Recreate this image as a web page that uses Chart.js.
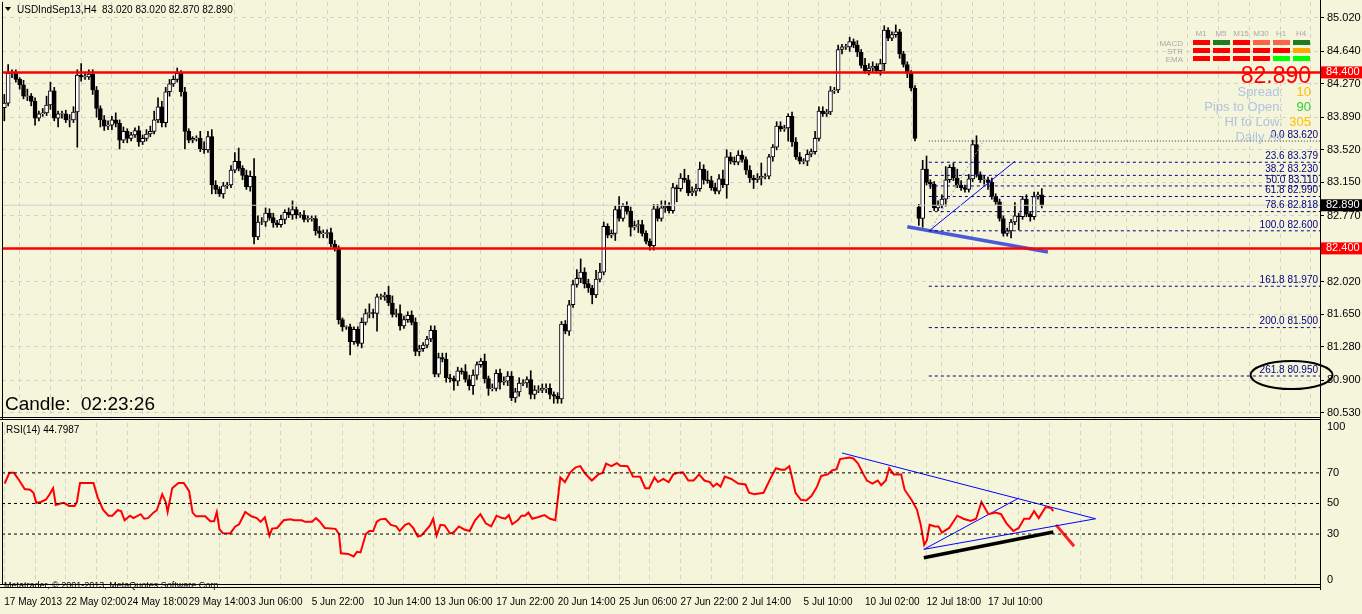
<!DOCTYPE html>
<html>
<head>
<meta charset="utf-8">
<script src="https://cdn.jsdelivr.net/npm/chart.js@4.4.0/dist/chart.umd.min.js"></script>
<style>
  html, body { margin: 0; padding: 0; background: #f5f5dc; overflow: hidden; }
  #wrap { position: relative; width: 1362px; height: 614px; }
  #main { position: absolute; left: 0; top: 0; }
  #rsi { position: absolute; left: 0; top: 422px; }
</style>
</head>
<body>
<div id="wrap">
  <canvas id="main" width="1362" height="422"></canvas>
  <canvas id="rsi" width="1362" height="192"></canvas>
</div>
<script>
// closing prices, H4 bars (index 0 = 17 May 2013 00:00)
const closes = [
  84.05,84.39,84.40,84.32,84.26,84.13,84.13,84.07,83.88,83.93,
  83.94,84.03,84.19,83.88,83.93,83.93,83.86,83.86,83.95,84.37,
  84.35,84.35,84.38,84.20,83.99,83.86,83.79,83.80,83.86,83.82,
  83.63,83.73,83.65,83.69,83.74,83.61,83.65,83.70,83.73,83.86,
  84.01,83.83,84.18,84.27,84.32,84.39,84.18,83.73,83.63,83.65,
  83.65,83.53,83.52,83.67,83.12,83.07,83.02,83.11,83.12,83.29,
  83.39,83.31,83.23,83.10,83.22,82.53,82.70,82.70,82.80,82.75,
  82.69,82.67,82.73,82.81,82.78,82.84,82.78,82.78,82.73,82.74,
  82.74,82.60,82.57,82.57,82.58,82.45,82.40,81.59,81.51,81.51,
  81.34,81.48,81.32,81.56,81.66,81.67,81.66,81.85,81.85,81.87,
  81.78,81.65,81.66,81.52,81.59,81.64,81.56,81.23,81.26,81.30,
  81.37,81.47,80.97,81.16,81.14,80.93,80.92,80.89,81.01,81.00,
  80.91,80.84,80.96,81.08,81.12,80.92,80.81,80.81,80.98,80.88,
  80.89,80.95,80.70,80.77,80.87,80.87,80.91,80.74,80.79,80.79,
  80.81,80.81,80.74,80.72,80.69,81.54,81.46,81.76,81.99,82.06,
  82.13,82.00,81.95,81.87,82.05,82.13,82.65,82.55,82.57,82.84,
  82.74,82.88,82.82,82.64,82.66,82.67,82.57,82.48,82.43,82.85,
  82.74,82.86,82.88,82.83,83.09,83.08,83.20,83.18,83.03,83.05,
  83.08,83.30,83.18,83.17,83.09,83.05,83.19,83.12,83.44,83.39,
  83.38,83.46,83.41,83.29,83.20,83.18,83.20,83.22,83.22,83.44,
  83.55,83.79,83.76,83.77,83.90,83.61,83.44,83.39,83.39,83.47,
  83.50,83.65,83.96,83.93,83.95,84.19,84.20,84.66,84.69,84.69,
  84.75,84.71,84.63,84.48,84.42,84.45,84.47,84.42,84.50,84.88,
  84.79,84.83,84.86,84.61,84.49,84.39,84.22,83.65,82.74,83.30,
  83.15,83.13,82.86,82.89,82.96,83.18,83.32,83.20,83.12,83.09,
  83.07,83.19,83.58,83.24,83.18,83.18,83.15,82.99,82.93,82.74,
  82.57,82.60,82.70,82.77,82.76,82.96,82.79,82.76,82.99,83.01,
  82.89
];
// opens follow the previous close except after price gaps
const firstOpen = 84.00;
const openGaps = [[238, 82.87]];
// wick lengths above / below the body, in hundredths
const wickHi = [
  10,10,3,3,2,5,8,3,4,3, 5,10,10,4,3,3,4,6,6,6, 13,4,5,5,4,3,5,5,4,8,
  4,5,3,3,3,5,4,5,6,10, 10,6,5,5,4,6,3,5,3,2, 3,8,8,6,8,5,3,4,3,5,
  10,15,3,6,6,20,7,5,6, 5,
  5,3,5,3,5,10,3,3,5,3, 3,3,5,4,3,5,4,3,2,1, 3,3,3,5,5,10,4,3,3,3,
  10,8,5,10,4,4,5,5,4,3, 3,5,5,5,5,7,4,3,4,3, 8,5,6,3,3,8,3,5,4,5,
  5,5,5,4,6,4,3,10,5,5, 5,5,5,3,4,3,4,5,
  5,10,15,5,5,3,10,10,5,3, 4,4,15,3,5,5,5,5,5,3, 3,5,5,8,6,4,5,3,5,10,
  5,5,5,8,5,10,5,5,5,10, 8,5,5,5,5,3,5,3,5,15, 3,3,3,5,5,3,3,5,5,5,
  3,5,3,8,5,5,
  3,5,3,5,3,3,5,3,5,3, 8,5,5,3,5,5,3,3,8,3, 3,3,3,3,
  3,10,15,3,3,5,5,15,3,5, 10,5,3,5,5,10,3,5,3,5, 3,3,3,3,3,15,3,3,5,3,
  5,3,7
];
const wickLo = [
  15,3,5,3,5,3,5,5,8,3, 3,3,5,3,10,5,3,8,3,40, 5,3,3,5,10,8,5,4,5,4,
  10,3,5,3,3,5,3,3,3,3, 3,5,5,5,3,3,5,20,3,3, 3,3,4,3,10,5,3,5,3,3,
  3,3,5,3,5,8,3,3,5, 3,
  5,3,3,5,3,5,4,3,3,3, 3,5,5,5,5,3,3,5,5,3, 15,3,3,5,3,5,5,20,3,4,
  3,3,3,5,3,3,3,5,5,3, 3,3,3,3,3,5,4,10,5,3, 3,5,10,5,3,5,8,3,3,8,
  3,5,3,5,5,3,5,5,5,3, 3,5,5,8,5,5,3,5,
  3,3,5,5,5,10,3,3,3,3, 3,8,3,3,3,10,3,8,3,3, 5,5,3,3,5,3,3,15,3,3,
  3,3,5,3,5,3,3,3,3,3, 15,3,3,3,3,5,5,10,3,8, 3,3,5,3,3,3,15,5,3,3,
  3,5,3,3,3,3,
  3,3,3,3,5,3,5,3,5,3, 3,5,5,3,5,8,3,3,3,5, 3,5,3,3,
  8,10,3,5,3,3,3,8,3,3, 3,3,3,3,3,3,3,5,8,3, 3,3,3,3,8,3,15,3,3,5,
  3,3,3
];
// RSI(14): bar position and value
const rsiX = [0.1,1.3,2.5,3.9,5.3,6.7,7.6,8.3,9.5,10.8,11.8,12.7,13.4,14.6,15.5,16.9,18.3,18.9,19.7,21.1,
  23.2,24.3,25.7,27.1,28.1,29.5,30.4,31.3,32.7,33.6,35.5,36.4,37.4,38.8,39.7,41.1,42,42.5,43.7,45.3,
  46.7,48.1,49,49.9,52.3,53.6,54.6,55.3,56,56.9,58.8,60.1,61.1,62.7,64.3,65.7,66.7,67.8,68.2,69,
  69.7,71,72.7,74.4,75.5,77.4,78.3,80.1,81.1,82,83.4,86.2,87.1,87.6,89.5,90.9,91.8,92.7,93.4,94.1,
  95,96,96.9,97.8,99.2,100.6,102,102.9,104.3,105.3,106.4,107.6,108.5,109.9,110.8,111.6,112.5,113.5,114.6,116,
  116.9,118.3,119.7,121.1,122.5,123.9,125.3,126.7,128.1,129.4,130.4,131.3,132.2,133.6,134.6,135.5,136.4,137.4,138.8,140.6,
  142,143.4,144.7,145.9,147.3,148.7,149.9,151,152.9,154.6,155.7,156.6,158,159.4,160.3,162.2,163.6,165.5,166.8,167.8,
  169.2,170.1,171.5,172.9,174.1,175.2,176.6,178,179.4,180.8,182.2,183.6,184.5,185.4,186.4,187.5,189.2,191,192.9,193.8,
  195.2,197.6,199.4,200.8,202.2,203.1,204.3,205,205.9,207.3,208.7,210.1,211.5,212.6,214.3,215.4,216.6,217.5,219.9,221,
  222.2,223.6,224.5,225.9,227.3,228.2,229.4,230.3,231.5,233.4,234.3,236.2,237.5,238.5,239.4,240.1,240.8,242.2,243.1,244,
  245.9,248,249.6,251.5,252.9,254.3,256.1,258,259.4,260.8,262.6,264,265.4,266.8,268,269.2,271,272.4,273];
const rsiY = [63,70,70,65,59.4,59,57,50.4,51,52.4,56,60,49,50,50.4,48.4,48.4,51,63.4,63.4,
  63.4,54,46,42,42,45.6,45,39,42,40.4,43,40,40.4,44,45.6,56,51,44.4,60,63.4,
  63.4,58,44,41.6,41.6,38.4,38.4,44.4,33,30.6,30.4,35,36.4,44.4,41.6,40.4,38,41,37,29,
  33.6,34,39,39.6,39,39,38,38,40.4,38.4,34,33.4,30,17.4,17,15.4,18.4,18,24,30,
  32,32,38,39.6,40,36,35,32,36,37,34,28.4,29,33,35.6,40,29,36,35.6,30.4,
  31,35,33,32,39,43,37,35,42,40.6,40,42.4,36.4,39,42,42,44,40,41,42.4,
  40,39,67,64,70.4,73.6,74.4,70,65,69,70,76,74.4,76.4,74.6,74.4,67.6,67.4,60,60,
  67,64,66,64,69,70,70.4,65,65,69,65,64,61,63,61,67.6,66,63,62.4,57,
  56,57,66.4,73,72,72,74.4,67,57,52.4,52,55,61,68,69,71.6,72.4,79,80,79.4,
  76,69,65,63,65,62,65,73,69,69,59,52,46,36,23,26,36,35,35,31,
  34,42,40,38.6,40,51,43,44,43,37,32,34,40,40,45,40.4,47.6,47,45];

// axis labels
const dateLabels = ['17 May 2013','22 May 02:00','24 May 18:00','29 May 14:00','3 Jun 06:00','5 Jun 22:00',
  '10 Jun 14:00','13 Jun 06:00','17 Jun 22:00','20 Jun 14:00','25 Jun 06:00','27 Jun 22:00','2 Jul 14:00',
  '5 Jul 10:00','10 Jul 02:00','12 Jul 18:00','17 Jul 10:00'];
const priceTicks = [85.020,84.640,84.270,83.890,83.520,83.150,82.770,82.400,82.020,81.650,81.280,80.900,80.530];
const rsiTicks = [100,70,50,30,0];
const rsiLevels = [70,50,30];

// levels and drawn objects
const resistance = 84.40, support = 82.40, lastPrice = 82.89;
const fibLevels = [['0.0',83.620],['23.6',83.379],['38.2',83.230],['50.0',83.110],['61.8',82.990],
  ['78.6',82.818],['100.0',82.600],['161.8',81.970],['200.0',81.500],['261.8',80.950]];
const fibStart = 240.6;
const panelCols = ['M1','M5','M15','M30','H1','H4'];
const panelRows = ['MACD','STR','EMA'];
const panelColors = [
  ['#ff0000','#1e7d1e','#ff0000','#ff6347','#ff6347','#1e7d1e'],
  ['#ff0000','#ff0000','#ff0000','#ff0000','#ff0000','#ffa500'],
  ['#ff0000','#ff0000','#ff0000','#ff0000','#00ff00','#00ff00']
];

const XMIN = -0.6, XMAX = 342.4;
const FONT = '"Liberation Sans", Arial, sans-serif';

const opens = closes.map((c, i) => i === 0 ? firstOpen : closes[i - 1]);
openGaps.forEach(g => { opens[g[0]] = g[1]; });

const wickData = closes.map((c, i) => ({
  x: i, y: [Math.min(opens[i], c) - wickLo[i] / 100, Math.max(opens[i], c) + wickHi[i] / 100]
}));
const bodyData = closes.map((c, i) => {
  let lo = Math.min(opens[i], c), hi = Math.max(opens[i], c);
  if (hi - lo < 0.006) { lo -= 0.003; hi += 0.003; }
  return { x: i, y: [lo, hi] };
});
const bodyFill = closes.map((c, i) => c >= opens[i] ? '#ffffff' : '#000000');

const seg = (x0, y0, x1, y1) => [{ x: x0, y: y0 }, { x: x1, y: y1 }];
const lineDs = (data, color, width, dash) => ({
  type: 'line', data, borderColor: color, borderWidth: width, borderDash: dash || [],
  pointRadius: 0, fill: false, order: 0, tension: 0
});

const noPad = s => { s.paddingTop = 0; s.paddingBottom = 0; s.paddingLeft = 0; s.paddingRight = 0; };
const fitRight = s => { s.width = 42; noPad(s); };

const mainDecor = {
  id: 'mainDecor',
  afterDraw(chart) {
    const { ctx, chartArea: a, scales } = chart;
    const x = scales.x, y = scales.y;
    ctx.save();
    // fib labels
    ctx.font = '10px ' + FONT;
    ctx.fillStyle = '#000080';
    ctx.textAlign = 'right';
    ctx.textBaseline = 'bottom';
    fibLevels.forEach(f => {
      ctx.fillText(f[0] + ' ' + f[1].toFixed(3), a.right - 2, y.getPixelForValue(f[1]) - 1);
    });
    // ellipse around 261.8
    ctx.strokeStyle = '#000';
    ctx.lineWidth = 2;
    ctx.beginPath();
    ctx.ellipse(x.getPixelForValue(335), y.getPixelForValue(80.96), 41, 14, 0, 0, Math.PI * 2);
    ctx.stroke();
    // borders
    ctx.lineWidth = 1;
    ctx.beginPath();
    ctx.moveTo(a.left + 0.5, a.top); ctx.lineTo(a.left + 0.5, a.bottom);
    ctx.moveTo(a.right + 0.5, 0); ctx.lineTo(a.right + 0.5, a.bottom + 3);
    ctx.moveTo(0, a.bottom - 2.5); ctx.lineTo(a.right, a.bottom - 2.5);
    ctx.moveTo(0, a.bottom - 0.5); ctx.lineTo(a.right, a.bottom - 0.5);
    ctx.stroke();
    // price boxes on axis
    const box = (v, bg, fg) => {
      const py = y.getPixelForValue(v);
      ctx.fillStyle = bg;
      ctx.fillRect(a.right + 1, py - 6, 41, 12);
      ctx.fillStyle = fg;
      ctx.textAlign = 'left';
      ctx.textBaseline = 'middle';
      ctx.font = '11px ' + FONT;
      ctx.fillText(v.toFixed(3), a.right + 6, py);
    };
    box(resistance, '#ff0000', '#ffffff');
    box(support, '#ff0000', '#ffffff');
    box(lastPrice, '#000000', '#ffffff');
    // title
    ctx.fillStyle = '#000';
    ctx.beginPath();
    ctx.moveTo(5, 7); ctx.lineTo(11, 7); ctx.lineTo(8, 11); ctx.closePath(); ctx.fill();
    ctx.font = '10px ' + FONT;
    ctx.textAlign = 'left';
    ctx.textBaseline = 'middle';
    ctx.fillText('USDIndSep13,H4  83.020 83.020 82.870 82.890', 17, 10);
    // candle timer
    ctx.font = '19px ' + FONT;
    ctx.textBaseline = 'alphabetic';
    ctx.fillText('Candle:  02:23:26', 5, 410);
    // signal panel
    ctx.font = '8px ' + FONT;
    ctx.fillStyle = '#a9a9a9';
    ctx.textAlign = 'center';
    panelCols.forEach((c, i) => ctx.fillText(c, 1201 + i * 20, 36));
    ctx.textAlign = 'right';
    panelRows.forEach((r, j) => {
      ctx.fillStyle = '#a9a9a9';
      ctx.fillText(r, 1183, 46 + j * 8);
      panelColors[j].forEach((col, i) => {
        ctx.fillStyle = col;
        ctx.fillRect(1193 + i * 20, 40 + j * 8, 17, 5);
      });
    });
    ctx.font = '23px ' + FONT;
    ctx.fillStyle = '#ff0000';
    ctx.fillText(lastPrice.toFixed(3), 1311, 83);
    ctx.font = '13px ' + FONT;
    const info = [['Spread:', '10', '#ffc000'], ['Pips to Open:', '90', '#32cd32'],
      ['HI to Low:', '305', '#ffc000'], ['Daily Av', '', '#32cd32']];
    info.forEach((r, k) => {
      ctx.fillStyle = '#b0c4de';
      ctx.textAlign = 'right';
      ctx.fillText(r[0], 1283, 96 + k * 15);
      ctx.fillStyle = r[2];
      ctx.fillText(r[1], 1311, 96 + k * 15);
    });
    ctx.restore();
  }
};

const rsiDecor = {
  id: 'rsiDecor',
  afterDraw(chart) {
    const { ctx, chartArea: a } = chart;
    ctx.save();
    ctx.fillStyle = '#000';
    ctx.font = '10px ' + FONT;
    ctx.textBaseline = 'top';
    ctx.fillText('RSI(14) 44.7987', 6, 3);
    ctx.strokeStyle = '#000';
    ctx.lineWidth = 1;
    ctx.beginPath();
    ctx.moveTo(a.left + 0.5, 0); ctx.lineTo(a.left + 0.5, a.bottom);
    ctx.moveTo(a.right + 0.5, 0); ctx.lineTo(a.right + 0.5, a.bottom + 5);
    ctx.moveTo(0, a.bottom - 0.5); ctx.lineTo(a.right, a.bottom - 0.5);
    ctx.moveTo(0, a.bottom + 2.5); ctx.lineTo(a.right, a.bottom + 2.5);
    ctx.stroke();
    ctx.font = '9px ' + FONT;
    ctx.textBaseline = 'middle';
    ctx.fillText('Metatrader, \u00a9 2001-2013, MetaQuotes Software Corp.', 4, a.bottom + 1);
    ctx.restore();
  }
};

const xTicks = s => { const t = []; for (let v = 0; v <= XMAX; v += 8) t.push({ value: v }); s.ticks = t; };

new Chart(document.getElementById('main'), {
  type: 'bar',
  data: {
    datasets: [
      lineDs(seg(XMIN, lastPrice, XMAX, lastPrice), '#cfcfcf', 1),
      lineDs(seg(XMIN, resistance, XMAX, resistance), '#ff0000', 2.5),
      lineDs(seg(XMIN, support, XMAX, support), '#ff0000', 2.5),
      ...fibLevels.map(f => lineDs(seg(fibStart, f[1], XMAX, f[1]), f[0] === '0.0' ? '#333333' : '#000080', 1, f[0] === '0.0' ? [1, 2] : [3, 3])),
      lineDs(seg(235, 82.645, 271.6, 82.36), '#4a5bd4', 3.5),
      lineDs(seg(241, 82.61, 263, 83.39), '#0000ff', 1),
      lineDs(seg(241, 82.61, 254.5, 83.60), '#a0a0a0', 1, [2, 2]),
      { type: 'bar', data: wickData, backgroundColor: '#000', barThickness: 1, grouped: false, order: 2 },
      { type: 'bar', data: bodyData, backgroundColor: bodyFill, borderColor: '#000', borderWidth: 1,
        borderSkipped: false, barThickness: 4, grouped: false, order: 1 }
    ]
  },
  options: {
    responsive: false, animation: false, events: [],
    layout: { padding: { top: 2, left: 2, right: 0, bottom: 0 } },
    plugins: { legend: { display: false }, tooltip: { enabled: false } },
    scales: {
      x: {
        type: 'linear', min: XMIN, max: XMAX, offset: false,
        afterBuildTicks: xTicks,
        afterFit: s => { s.height = 2; noPad(s); },
        ticks: { display: false },
        grid: { color: '#d3d3c8', drawTicks: false }, border: { display: false, dash: [4, 4] }
      },
      y: {
        position: 'right', min: 80.45, max: 85.20,
        afterBuildTicks: s => { s.ticks = priceTicks.map(v => ({ value: v })); },
        afterFit: fitRight,
        ticks: { color: '#000', font: { size: 11, family: FONT }, padding: 3, autoSkip: false,
          callback: v => v.toFixed(3) },
        grid: { color: '#d3d3c8', drawTicks: true, tickLength: 4, tickColor: '#000' },
        border: { display: false, dash: [4, 4] }
      }
    }
  },
  plugins: [mainDecor]
});

new Chart(document.getElementById('rsi'), {
  type: 'line',
  data: {
    datasets: [
      ...rsiLevels.map(l => lineDs(seg(XMIN, l, XMAX, l), '#000', 1, [3, 3])),
      lineDs(rsiX.map((v, i) => ({ x: v, y: rsiY[i] })), '#ff0000', 2),
      lineDs(seg(218, 83, 284, 40), '#0000ff', 1),
      lineDs(seg(239.3, 20, 284, 40), '#0000ff', 1),
      lineDs(seg(239.3, 20, 264, 53.5), '#0000ff', 1),
      lineDs(seg(239.3, 14.5, 273, 31.4), '#000000', 3.5),
      lineDs(seg(273.7, 36, 278.4, 22), '#ff2020', 3)
    ]
  },
  options: {
    responsive: false, animation: false, events: [],
    layout: { padding: { top: 1, left: 2, right: 0, bottom: 0 } },
    plugins: { legend: { display: false }, tooltip: { enabled: false } },
    scales: {
      x: {
        type: 'linear', min: XMIN, max: XMAX,
        afterBuildTicks: xTicks,
        afterFit: s => { s.height = 29; noPad(s); },
        ticks: { color: '#000', font: { size: 10, family: FONT }, maxRotation: 0, autoSkip: false, align: 'start',
          padding: 11, callback: v => (v % 16 === 0 && dateLabels[v / 16]) ? dateLabels[v / 16] : '' },
        grid: { color: '#d3d3c8', drawTicks: false },
        border: { display: false, dash: [4, 4] }
      },
      y: {
        position: 'right', min: -3.3, max: 102.6,
        afterBuildTicks: s => { s.ticks = rsiTicks.map(v => ({ value: v })); },
        afterFit: fitRight,
        ticks: { color: '#000', font: { size: 11, family: FONT }, padding: 3, autoSkip: false },
        grid: { display: false, drawTicks: true, tickLength: 4, tickColor: '#000' },
        border: { display: false }
      }
    }
  },
  plugins: [rsiDecor]
});
</script>
</body>
</html>
